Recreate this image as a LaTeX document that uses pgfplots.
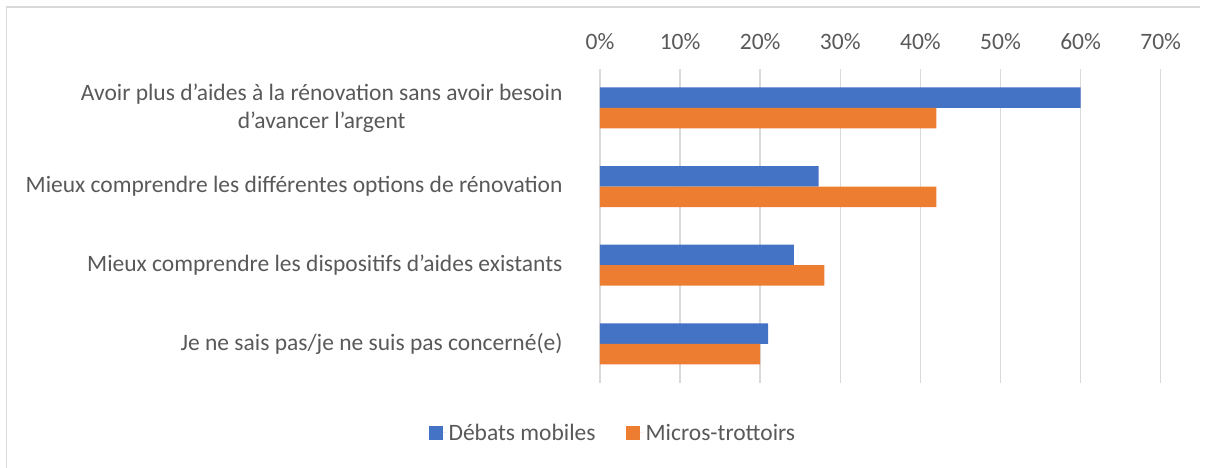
\documentclass[border=0pt]{standalone}
\usepackage{fontspec}
\setmainfont{Carlito}
\usepackage{pgfplots}
\pgfplotsset{compat=1.18}
\definecolor{bleu}{HTML}{4472C4}
\definecolor{orange}{HTML}{ED7D31}
\definecolor{texte}{HTML}{595959}
\definecolor{grille}{HTML}{D9D9D9}

\begin{document}
\begin{tikzpicture}
  \useasboundingbox (-600bp,-84.8bp) rectangle (609bp,383.2bp);
  \draw[grille, line width=1.5bp] (-593.3bp,-84.8bp) -- (-593.3bp,376.2bp) -- (600bp,376.2bp);
  \begin{axis}[
    scale only axis,
    width=560.7bp, height=314.7bp,
    xbar, bar width=20.5bp,
    xmin=0, xmax=70,
    ymin=-0.5, ymax=3.5, y dir=reverse,
    xtick={0,10,...,70},
    xticklabels={0\%,10\%,20\%,30\%,40\%,50\%,60\%,70\%},
    xticklabel pos=upper,
    ytick={0,1,2,3},
    yticklabels={{Avoir plus d’aides à la rénovation sans avoir besoin\\d’avancer l’argent},
                 {Mieux comprendre les différentes options de rénovation},
                 {Mieux comprendre les dispositifs d’aides existants},
                 {Je ne sais pas/je ne suis pas concerné(e)}},
    yticklabel style={align=center, font=\fontsize{23.5bp}{28bp}\selectfont, text=texte, xshift=-34bp},
    xticklabel style={font=\fontsize{23.5bp}{28bp}\selectfont, text=texte, yshift=15bp},
    major tick length=0pt,
    axis line style={draw=none},
    xmajorgrids, grid style={grille, line width=1.5bp},
    legend style={at={(0.023,-0.158)}, anchor=center, legend columns=2, draw=none,
      font=\fontsize{23.5bp}{28bp}\selectfont, text=texte,
      /tikz/every even column/.append style={column sep=28bp}},
    legend image code/.code={\fill[#1] (0bp,-7bp) rectangle (14bp,7bp);
      \path (0bp,0bp) -- (18bp,0bp);},
  ]
    \addplot[fill=bleu, draw=none, bar shift=10.25bp] coordinates {(60,0) (27.3,1) (24.2,2) (21,3)};
    \addplot[fill=orange, draw=none, bar shift=-10.25bp] coordinates {(42,0) (42,1) (28,2) (20,3)};
    \legend{Débats mobiles, Micros-trottoirs}
  \end{axis}
\end{tikzpicture}
\end{document}
